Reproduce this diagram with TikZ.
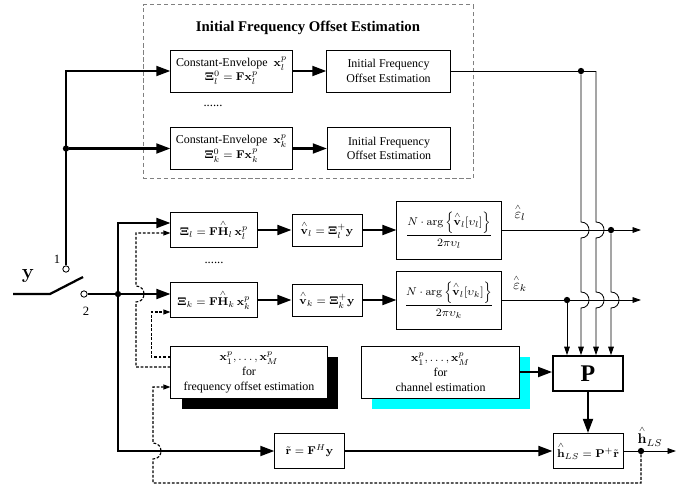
\documentclass[tikz,border=0pt]{standalone}
\usepackage{amsmath,amssymb}
\usepackage[no-math]{fontspec}
\setmainfont{Liberation Serif}
\usetikzlibrary{arrows.meta,positioning,calc,shadows}
\definecolor{shcyan}{RGB}{0,255,255}

\newcommand{\lhat}[1]{\overset{\scriptscriptstyle\wedge}{#1}}
% small hop of a vertical line over a crossing line
\newcommand{\linehop}[3]{-- (#1,#2) .. controls (#1+10.7,#2) and (#1+10.7,#3) .. (#1,#3)}

\begin{document}
\begin{tikzpicture}[x=0.025cm, y=-0.025cm,
    blk/.style={rectangle, draw, line width=0.7pt, fill=white, align=center,
        font=\fontsize{8.5}{10.5}\selectfont, inner sep=1pt},
    mblk/.style={blk, font=\fontsize{8.5}{9}\selectfont},
    thk/.style={line width=1.6pt, -{Triangle[length=10pt,width=7pt]}},
    thn/.style={line width=0.6pt, -{Triangle[length=6pt,width=4pt]}},
    dsh/.style={line width=0.8pt, dash pattern=on 2pt off 1.2pt, -{Triangle[length=5pt,width=3.5pt]}},
    jdot/.style={circle, fill, inner sep=0pt, minimum size=4.5pt},
    term/.style={circle, draw, fill=white, line width=0.6pt, inner sep=0pt, minimum size=4.5pt}
]
    \useasboundingbox (0,0) rectangle (699,487);

    % initial frequency offset estimation block
    \node[draw=gray, densely dashed, line width=0.6pt, minimum width=8.25cm, minimum height=4.33cm] (ifoe) at (308,91.5) {};
    \node[font=\bfseries\fontsize{10.5}{11}\selectfont] (ttl) at (308,28) {Initial Frequency Offset Estimation};
    \node[blk, minimum width=3.03cm, minimum height=1.05cm] (cel) at (231.5,71)
        {Constant-Envelope \ $\mathbf{x}_l^p$\\ $\mathbf{\Xi}_l^0=\mathbf{F}\mathbf{x}_l^p$};
    \node[blk, minimum width=3.08cm, minimum height=1.05cm] (ifl) at (388.5,71) {Initial Frequency\\ Offset Estimation};
    \node[font=\fontsize{9}{9}\selectfont] (dts1) at (213,106) {......};
    \node[blk, minimum width=3.03cm, minimum height=1.05cm] (cek) at (231.5,148.5)
        {Constant-Envelope \ $\mathbf{x}_k^p$\\ $\mathbf{\Xi}_k^0=\mathbf{F}\mathbf{x}_k^p$};
    \node[blk, minimum width=3.08cm, minimum height=1.05cm] (ifk) at (389,148.5) {Initial Frequency\\ Offset Estimation};
    \draw[thk] (cel) -- (ifl);
    \draw[thk] (cek) -- (ifk);

    % switch
    \node[term] (t1) at (66,269) {};
    \node[term] (t2) at (84,294) {};
    \node[font=\fontsize{15}{15}\selectfont] (ylab) at (28,276) {$\mathbf{y}$};
    \node[font=\fontsize{9}{10}\selectfont] (n1) at (57,259) {1};
    \node[font=\fontsize{9}{10}\selectfont] (n2) at (86,311) {2};
    \coordinate (yin) at (13,294);
    \coordinate (piv) at (50,294);
    \coordinate (blade) at (83,277);
    \draw[line width=1.6pt] (yin) -- (piv) -- (blade);
    \node[jdot] (j1) at (66,148.5) {};
    \draw[thk] (t1) |- (cel);
    \draw[thk] (j1) -- (cek);

    % frequency offset estimation rows
    \node[mblk, minimum width=2.15cm, minimum height=0.875cm] (xil) at (214,230)
        {$\mathbf{\Xi}_l=\mathbf{F}\lhat{\mathbf{H}}_l\,\mathbf{x}_l^p$};
    \node[mblk, minimum width=1.75cm, minimum height=0.8cm] (vl) at (327,230)
        {$\lhat{\mathbf{v}}_l=\mathbf{\Xi}_l^{+}\mathbf{y}$};
    \node[mblk, minimum width=2.6cm, minimum height=1.45cm] (frl) at (449,230)
        {$\dfrac{N\cdot\arg\left\{\lhat{\mathbf{v}}_l[\upsilon_l]\right\}}{2\pi\upsilon_l}$};
    \node[font=\fontsize{9}{9}\selectfont] (dts2) at (214,263) {......};
    \node[mblk, minimum width=2.15cm, minimum height=0.875cm] (xik) at (214,300)
        {$\mathbf{\Xi}_k=\mathbf{F}\lhat{\mathbf{H}}_k\,\mathbf{x}_k^p$};
    \node[mblk, minimum width=1.75cm, minimum height=0.8cm] (vk) at (327,300)
        {$\lhat{\mathbf{v}}_k=\mathbf{\Xi}_k^{+}\mathbf{y}$};
    \node[mblk, minimum width=2.6cm, minimum height=1.45cm] (frk) at (449,300)
        {$\dfrac{N\cdot\arg\left\{\lhat{\mathbf{v}}_l[\upsilon_k]\right\}}{2\pi\upsilon_k}$};
    \draw[thk] (xil) -- (vl);
    \draw[thk] (vl) -- (frl);
    \draw[thk] (xik) -- (vk);
    \draw[thk] (vk) -- (frk);
    \node[font=\fontsize{10}{10}\selectfont] (epl) at (520,212) {$\lhat{\varepsilon}_l$};
    \node[font=\fontsize{10}{10}\selectfont] (epk) at (520,283) {$\lhat{\varepsilon}_k$};
    \node[jdot] (dl) at (611,230) {};
    \node[jdot] (dk) at (567,300) {};
    \coordinate (el) at (641,230);
    \coordinate (ek) at (641,300);
    \draw[thn] (frl) -- (el);
    \draw[thn] (frk) -- (ek);

    % bus from terminal 2
    \node[jdot] (j2) at (118,294) {};
    \draw[thk] (t2) -- (xik.west |- j2);
    \draw[thk] (j2) |- ($(xil.west)+(0,-7)$);

    % pilot sets
    \node[blk, minimum width=3.9cm, minimum height=1.3cm,
        drop shadow={shadow xshift=7.5pt, shadow yshift=-7.8pt, fill=black, opacity=1}] (fq) at (249,372)
        {$\mathbf{x}_1^p,\ldots,\mathbf{x}_M^p$\\ for\\ frequency offset estimation};
    \node[blk, minimum width=3.93cm, minimum height=1.3cm,
        drop shadow={shadow xshift=7.5pt, shadow yshift=-7.8pt, fill=shcyan, opacity=1}] (ch) at (440.5,372)
        {$\mathbf{x}_1^p,\ldots,\mathbf{x}_M^p$\\ for\\ channel estimation};
    \draw[dsh] ($(fq.west)+(0,-15)$) -- ++(-19,0) |- ($(xik.west)+(0,12)$);
    \draw[dsh] ($(fq.west)+(0,-5)$) -- (136,367) \linehop{136}{302}{286} |- ($(xil.west)+(0,3)$);

    % channel estimation
    \node[blk, line width=1.2pt, minimum width=1.75cm, minimum height=0.875cm,
        font=\bfseries\fontsize{17}{17}\selectfont] (pb) at (588,373.5) {P};
    \node[mblk, minimum width=1.73cm, minimum height=0.875cm] (rb) at (309.5,451)
        {$\tilde{\mathbf{r}}=\mathbf{F}^H\mathbf{y}$};
    \node[mblk, minimum width=1.75cm, minimum height=0.875cm] (hls) at (588,451)
        {$\lhat{\mathbf{h}}_{LS}=\mathbf{P}^{+}\tilde{\mathbf{r}}$};
    \draw[thk] (ch.east) -- (pb.west |- ch.east);
    \draw[thk] (pb) -- (hls);
    \draw[thk] (j2) |- (rb);
    \draw[thk] (rb) -- (hls);
    \node[jdot] (jo) at (641,451) {};
    \coordinate (hout) at (676,451);
    \draw[thn] (hls) -- (hout);
    \node[font=\fontsize{10}{10}\selectfont] (hlab) at (650,436) {$\lhat{\mathbf{h}}_{LS}$};
    \draw[dsh] (jo) -- (641,483) -- (153,483) \linehop{153}{459}{443} |- ($(fq.west)+(0,15)$);

    % offset estimates into P
    \node[jdot] (du) at (581,71) {};
    \coordinate (cr) at (596,71);
    \draw[line width=0.6pt] (ifl) -- (cr);
    \draw[thn] (du) \linehop{581}{222}{238} \linehop{581}{292}{308} -- (du |- pb.north);
    \draw[thn] (cr) \linehop{596}{222}{238} \linehop{596}{292}{308} -- (cr |- pb.north);
    \draw[thn] (dl) \linehop{611}{292}{308} -- (dl |- pb.north);
    \draw[thn] (dk) -- (dk |- pb.north);
\end{tikzpicture}
\end{document}
